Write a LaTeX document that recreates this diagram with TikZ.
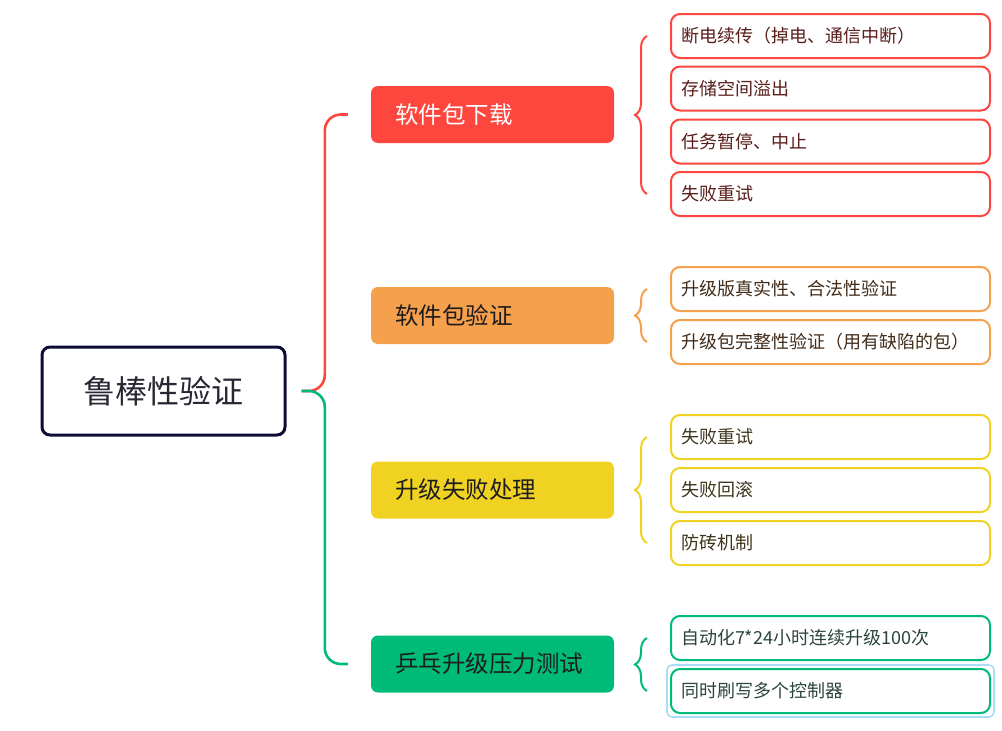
\documentclass[tikz,border=0pt]{standalone}
\usepackage{fontspec}
\newfontfamily\cjk{Noto Sans CJK SC}
\usetikzlibrary{arrows.meta,positioning,fit,calc,decorations.pathreplacing}
\definecolor{RbNavy}{RGB}{13,12,53}
\definecolor{RbInk}{RGB}{40,40,52}
\definecolor{RbRed}{RGB}{252,70,62}
\definecolor{RbOrange}{RGB}{245,160,76}
\definecolor{RbYellow}{RGB}{240,211,34}
\definecolor{RbGreen}{RGB}{0,186,120}
\definecolor{RbSelect}{RGB}{172,220,245}
\definecolor{RbRedText}{RGB}{88,30,26}
\definecolor{RbOrangeText}{RGB}{66,44,26}
\definecolor{RbYellowText}{RGB}{62,54,28}
\definecolor{RbGreenText}{RGB}{44,70,58}
\definecolor{RbDark}{RGB}{30,28,30}
\tikzset{
  rb/root/.style={
    draw=RbNavy,
    line width=3pt,
    rounded corners=8pt,
    fill=white,
    align=center,
    text=RbInk,
    minimum width=243pt,
    minimum height=88pt,
    font=\cjk\fontsize{32}{36}\selectfont
  },
  rb/main/.style={
    rounded corners=7pt,
    align=left,
    minimum width=243pt,
    minimum height=57pt,
    inner xsep=24pt,
    text width=195pt,
    font=\cjk\fontsize{23.5}{26}\selectfont
  },
  rb/leaf/.style={
    draw,
    line width=2pt,
    rounded corners=9pt,
    fill=white,
    align=left,
    minimum width=319pt,
    minimum height=44pt,
    inner xsep=10pt,
    text width=299pt,
    font=\cjk\fontsize{18}{20}\selectfont
  },
  rb/link/.style={line width=2.6pt, rounded corners=16pt},
  rb/brace/.style={decorate, decoration={brace,amplitude=12pt}, line width=2pt},
  rb/select/.style={draw=RbSelect, line width=1.6pt, rounded corners=5pt, inner sep=3pt}
}
\begin{document}
\begin{tikzpicture}[x=1pt,y=-1pt]
  \useasboundingbox (0,0) rectangle (1002,731);
  \node[rb/root] (root) at (163.5,391) {鲁棒性验证};

  \node[rb/main,fill=RbRed,text=white] (dl) at (492.5,114.5) {软件包下载};
  \node[rb/main,fill=RbOrange,text=RbDark] (vf) at (492.5,315.5) {软件包验证};
  \node[rb/main,fill=RbYellow,text=RbDark] (fh) at (492.5,490) {升级失败处理};
  \node[rb/main,fill=RbGreen,text=RbDark] (pp) at (492.5,664) {乒乓升级压力测试};

  \node[rb/leaf,draw=RbRed,text=RbRedText] (dl1) at (830.5,36) {断电续传（掉电、通信中断）};
  \node[rb/leaf,draw=RbRed,text=RbRedText] (dl2) at (830.5,88.5) {存储空间溢出};
  \node[rb/leaf,draw=RbRed,text=RbRedText] (dl3) at (830.5,141.5) {任务暂停、中止};
  \node[rb/leaf,draw=RbRed,text=RbRedText] (dl4) at (830.5,194) {失败重试};

  \node[rb/leaf,draw=RbOrange,text=RbOrangeText] (vf1) at (830.5,289) {升级版真实性、合法性验证};
  \node[rb/leaf,draw=RbOrange,text=RbOrangeText] (vf2) at (830.5,342) {升级包完整性验证（用有缺陷的包）};

  \node[rb/leaf,draw=RbYellow,text=RbYellowText] (fh1) at (830.5,437) {失败重试};
  \node[rb/leaf,draw=RbYellow,text=RbYellowText] (fh2) at (830.5,490) {失败回滚};
  \node[rb/leaf,draw=RbYellow,text=RbYellowText] (fh3) at (830.5,543) {防砖机制};

  \node[rb/leaf,draw=RbGreen,text=RbGreenText] (pp1) at (830.5,638) {自动化7*24小时连续升级100次};
  \node[rb/leaf,draw=RbGreen,text=RbGreenText] (pp2) at (830.5,691) {同时刷写多个控制器};
  \node[rb/select,fit=(pp2)] (sel) {};

  \draw[rb/link,draw=RbRed] ([xshift=15pt]root.east) -| ([xshift=-46pt]dl.west) -- ([xshift=-23pt]dl.west);
  \draw[rb/link,draw=RbGreen] ([xshift=15pt]root.east) -| ([xshift=-46pt]pp.west) -- ([xshift=-23pt]pp.west);

  \draw[rb/brace,draw=RbRed] ([xshift=-23pt]dl4.west) -- ([xshift=-23pt]dl1.west);
  \draw[rb/brace,draw=RbOrange] ([xshift=-23pt]vf2.west) -- ([xshift=-23pt]vf1.west);
  \draw[rb/brace,draw=RbYellow] ([xshift=-23pt]fh3.west) -- ([xshift=-23pt]fh1.west);
  \draw[rb/brace,draw=RbGreen] ([xshift=-23pt]pp2.west) -- ([xshift=-23pt]pp1.west);
\end{tikzpicture}
\end{document}
